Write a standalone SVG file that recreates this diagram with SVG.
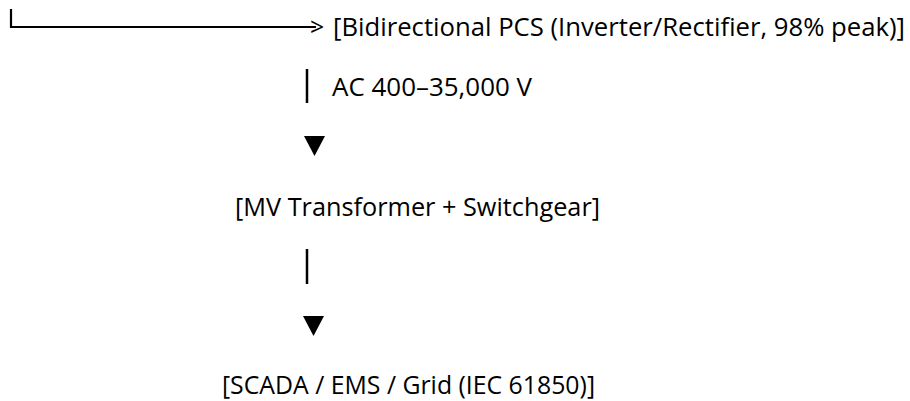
<svg xmlns="http://www.w3.org/2000/svg" width="910" height="401" viewBox="0 0 910 401">
<style>
.t{font-family:"Open Sans","Liberation Sans",sans-serif;font-size:25px;fill:#000}
.ln{stroke:#000;fill:none}
.ar{fill:#000}
</style>
<rect width="910" height="401" fill="#fff"/>
<g id="connectors">
<path class="ln" d="M11 9V27H316" stroke-width="2.2"/>
<text class="t" x="310" y="36">&gt;</text>
<line class="ln" x1="307" y1="69" x2="307" y2="103" stroke-width="2.5"/>
<polygon class="ar" points="304,136 325,136 314.5,156"/>
<line class="ln" x1="307" y1="249" x2="307" y2="284" stroke-width="2.5"/>
<polygon class="ar" points="303,316 324,316 313.5,336"/>
</g>
<g id="pcs"><text class="t" x="333" y="36" textLength="572" lengthAdjust="spacingAndGlyphs">[Bidirectional PCS (Inverter/Rectifier, 98% peak)]</text></g>
<g id="ac-label"><text class="t" x="332" y="96" textLength="200" lengthAdjust="spacingAndGlyphs">AC 400–35,000 V</text></g>
<g id="transformer"><text class="t" x="235" y="216" textLength="365" lengthAdjust="spacingAndGlyphs">[MV Transformer + Switchgear]</text></g>
<g id="scada"><text class="t" x="222" y="394" textLength="373" lengthAdjust="spacingAndGlyphs">[SCADA / EMS / Grid (IEC 61850)]</text></g>
</svg>
